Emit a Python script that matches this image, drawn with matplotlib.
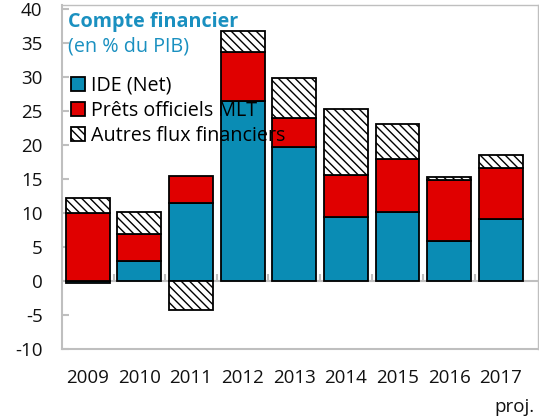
import matplotlib
matplotlib.use("Agg")
import matplotlib.pyplot as plt
import numpy as np
from matplotlib.patches import Patch

plt.rcParams['font.family'] = ['Open Sans', 'DejaVu Sans']
plt.rcParams['hatch.linewidth'] = 1.0

years = ["2009", "2010", "2011", "2012", "2013", "2014", "2015", "2016", "2017"]
ide = [-0.3, 3.0, 11.4, 26.5, 19.75, 9.35, 10.2, 5.9, 9.05]
prets = [10.0, 3.9, 4.1, 7.1, 4.15, 6.25, 7.8, 9.0, 7.6]
autres = [2.2, 3.3, -4.3, 3.2, 5.9, 9.7, 5.1, 0.35, 1.9]
yticks = [-10, -5, 0, 5, 10, 15, 20, 25, 30, 35, 40]

c_ide = '#0a8cb4'
c_red = '#e00000'
c_title = '#1a90c0'
grey = '#bfbfbf'
tick_fs = 13.5
leg_fs = 14.2

fig = plt.figure(figsize=(5.39, 4.17), dpi=100)
ax = fig.add_axes([0.115, 0.163, 0.883, 0.824])

x = np.arange(len(years))
ide_a = np.array(ide)
prets_a = np.array(prets)
autres_a = np.array(autres)

w = 0.85
lw = 1.3
ax.bar(x, ide_a, w, color=c_ide, edgecolor='black', linewidth=lw, zorder=2)
base_p = np.where(ide_a > 0, ide_a, 0)
ax.bar(x, prets_a, w, bottom=base_p, color=c_red, edgecolor='black', linewidth=lw, zorder=2)
top_pos = base_p + prets_a
neg_base = np.where(ide_a < 0, ide_a, 0)
base_a = np.where(autres_a >= 0, top_pos, neg_base)
ax.bar(x, autres_a, w, bottom=base_a, color='white', edgecolor='black',
       hatch='\\\\\\\\', linewidth=lw, zorder=2)

ax.set_xlim(-0.5, 8.72)
ax.set_ylim(-10, 40.5)
ax.set_yticks(yticks)
ax.set_yticklabels([str(v) for v in yticks])

for s in ['left', 'bottom', 'top', 'right']:
    ax.spines[s].set_color(grey)
    ax.spines[s].set_linewidth(1.5)
ax.spines['top'].set_linewidth(1.0)
ax.spines['right'].set_linewidth(1.0)

ax.tick_params(axis='y', direction='in', length=5, width=1.5, color=grey,
               labelsize=tick_fs, pad=14, labelcolor='#111111')
ax.set_xticks(x)
ax.set_xticklabels(years)
ax.tick_params(axis='x', length=0, labelsize=tick_fs, pad=14.5, labelcolor='#111111')

ax.axhline(0, color=grey, linewidth=1.5, zorder=1)
bounds = np.arange(len(years) - 1) + 0.5
ax.vlines(bounds, 0, 1.0, color=grey, linewidth=1.5, zorder=1)

ax.text(0.992, -0.1825, "proj.", transform=ax.transAxes, ha='right', va='baseline',
        fontsize=tick_fs, color='#111111')

ax.text(0.012, 0.937, "Compte financier", transform=ax.transAxes, ha='left', va='baseline',
        fontsize=leg_fs, fontweight='bold', color=c_title, zorder=5)
ax.text(0.012, 0.866, "(en % du PIB)", transform=ax.transAxes, ha='left', va='baseline',
        fontsize=leg_fs, color=c_title, zorder=5)

handles = [Patch(facecolor=c_ide, edgecolor='black', linewidth=1.3, label='IDE (Net)'),
           Patch(facecolor=c_red, edgecolor='black', linewidth=1.3, label='Prêts officiels MLT'),
           Patch(facecolor='white', edgecolor='black', hatch='\\\\\\\\', linewidth=1.3,
                 label='Autres flux financiers')]
leg = ax.legend(handles=handles, loc='upper left', bbox_to_anchor=(0.019, 0.796),
                frameon=False, fontsize=leg_fs, handlelength=0.7, handleheight=0.7,
                handletextpad=0.3, labelspacing=0.27, borderaxespad=0.0, borderpad=0.0)
leg.set_zorder(6)

fig.savefig('out.png', dpi=100)
